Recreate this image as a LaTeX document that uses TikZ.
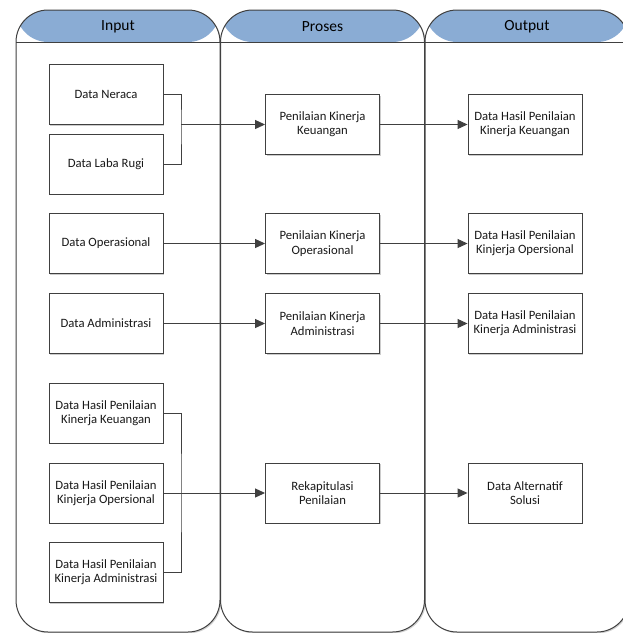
\documentclass[tikz,border=0pt]{standalone}
\usepackage{fontspec}
\setmainfont{Carlito}
\usetikzlibrary{arrows.meta, shadows}
\definecolor{headblue}{RGB}{138,172,212}
\definecolor{linegray}{RGB}{64,64,64}
\tikzset{
    lane/.style={draw=linegray,line width=1pt,fill=white,rounded corners=32pt,
        minimum width=204pt,minimum height=622pt,inner sep=0pt,
        drop shadow={shadow xshift=1.3pt,shadow yshift=-1.3pt,fill=gray!35,opacity=1},
        path picture={
            \fill[headblue] (path picture bounding box.north west) rectangle ([yshift=-32pt]path picture bounding box.north east);
            \draw[linegray,line width=1pt] ([yshift=-32pt]path picture bounding box.north west) -- ([yshift=-32pt]path picture bounding box.north east);
        }},
    head/.style={font=\fontsize{15.5}{18}\selectfont,text=black},
    box/.style={draw=linegray,line width=0.9pt,fill=white,minimum width=114pt,minimum height=60pt,
        inner sep=2pt,align=center,text=black!90,font=\fontsize{12.7}{14.3}\selectfont,
        drop shadow={shadow xshift=1pt,shadow yshift=-1pt,fill=gray!40,opacity=1}},
    conn/.style={draw=linegray,line width=1pt},
    flow/.style={
        every edge/.style={conn,-{Triangle[length=10pt,width=9pt]}},
    }
}

\begin{document}
\begin{tikzpicture}[x=1pt,y=-1pt,flow]
\useasboundingbox (0,0) rectangle (623,633);
% lajur
\node[lane] (lin) at (118,321) {};
\node[lane] (lpr) at (322.5,321) {};
\node[lane] (lout) at (527,321) {};
\node[head] (hin) at (118,26.5) {Input};
\node[head] (hpr) at (322.5,26.5) {Proses};
\node[head] (hout) at (527,26.5) {Output};
% input
\node[box] (neraca) at (106,94.5) {Data Neraca};
\node[box] (labarugi) at (106,164) {Data Laba Rugi};
\node[box] (operasional) at (106,243.5) {Data Operasional};
\node[box] (administrasi) at (106,323.5) {Data Administrasi};
\node[box] (hk) at (106,413) {Data Hasil Penilaian\\Kinerja Keuangan};
\node[box] (ho) at (106,493) {Data Hasil Penilaian\\Kinjerja Opersional};
\node[box] (ha) at (106,572.5) {Data Hasil Penilaian\\Kinerja Administrasi};
% proses
\node[box] (pkk) at (322.5,124.5) {Penilaian Kinerja\\Keuangan};
\node[box] (pko) at (322.5,243.5) {Penilaian Kinerja\\Operasional};
\node[box] (pka) at (322.5,323.5) {Penilaian Kinerja\\Administrasi};
\node[box] (rekap) at (322.5,493) {Rekapitulasi\\Penilaian};
% output
\node[box] (ok) at (525,124.5) {Data Hasil Penilaian\\Kinerja Keuangan};
\node[box] (oo) at (525,243.5) {Data Hasil Penilaian\\Kinjerja Opersional};
\node[box] (oa) at (525,323.5) {Data Hasil Penilaian\\Kinerja Administrasi};
\node[box] (solusi) at (525,493) {Data Alternatif\\Solusi};
% sambungan
\coordinate (j1) at (181,124.5);
\coordinate (j2) at (181,493);
\draw[conn] (neraca) -| (j1) |- (labarugi);
\draw[conn] (hk) -| (j2) |- (ha);
\draw[conn] (ho) -- (j2);
\path
    (j1) edge (pkk)
    (operasional) edge (pko)
    (administrasi) edge (pka)
    (j2) edge (rekap)
    (pkk) edge (ok)
    (pko) edge (oo)
    (pka) edge (oa)
    (rekap) edge (solusi)
;
\end{tikzpicture}
\end{document}
